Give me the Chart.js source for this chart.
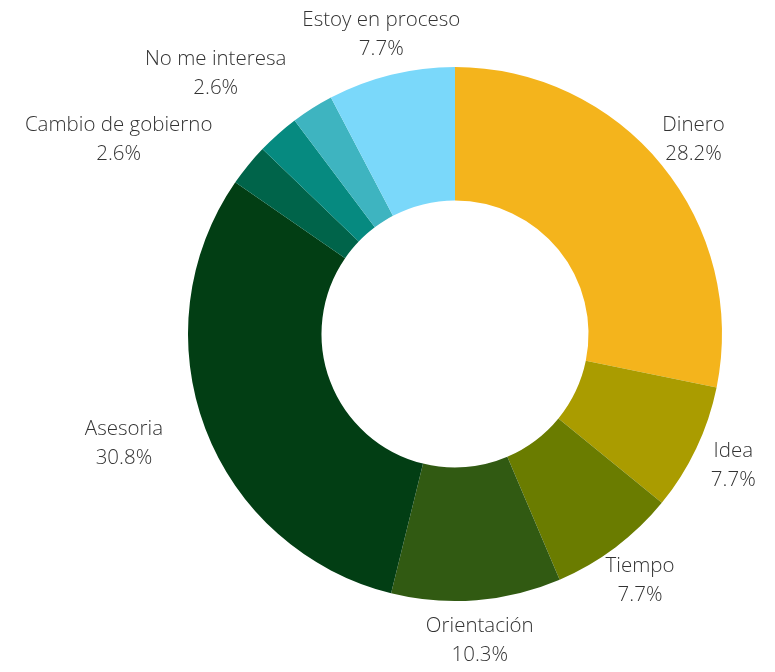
<!DOCTYPE html>
<html>
<head>
<meta charset="utf-8">
<script src="https://cdn.jsdelivr.net/npm/chart.js@4/dist/chart.umd.min.js"></script>
<style>
  html, body { margin: 0; padding: 0; background: #ffffff; }
  #wrap { width: 775px; height: 672px; position: relative; }
</style>
</head>
<body>
<div id="wrap"><canvas id="c" width="775" height="672"></canvas></div>
<script>
// Categories (one small slice has no visible label in the reference)
const categories = ['Dinero', 'Idea', 'Tiempo', 'Orientación', 'Asesoria', 'Cambio de gobierno', '', 'No me interesa', 'Estoy en proceso'];
// Response counts (percentages shown are count / total)
const counts = [11, 3, 3, 4, 12, 1, 1, 1, 3];
const sliceColors = ['#F4B41C', '#AA9C00', '#6A7C00', '#315A12', '#023E14', '#00644A', '#068A80', '#3EB4C0', '#7AD8FA'];

const labelsDraw = {
  id: 'labelsDraw',
  afterDatasetsDraw(chart) {
    const ctx = chart.ctx;
    const meta = chart.getDatasetMeta(0);
    const data = chart.data.datasets[0].data;
    const total = data.reduce((a, b) => a + b, 0);
    ctx.save();
    ctx.font = '300 20.5px "Open Sans"';
    ctx.fillStyle = '#333333';
    ctx.textBaseline = 'middle';
    ctx.textAlign = 'center';
    const lineH = 29;
    meta.data.forEach((arc, i) => {
      const name = chart.data.labels[i];
      if (!name) return;
      const p = arc.getProps(['x', 'y', 'startAngle', 'endAngle', 'outerRadius'], true);
      const mid = (p.startAngle + p.endAngle) / 2;
      const r = p.outerRadius + 41;
      const ax = p.x + Math.cos(mid) * r;
      const ay = p.y + Math.sin(mid) * r;
      const pct = (data[i] / total * 100).toFixed(1) + '%';
      const w = Math.max(ctx.measureText(name).width, ctx.measureText(pct).width);
      let cx = ax;
      if (Math.cos(mid) < -0.5) cx = ax - 4 - w / 2;
      ctx.fillText(name, cx, ay - lineH / 2);
      ctx.fillText(pct, cx, ay + lineH / 2);
    });
    ctx.restore();
  }
};

new Chart(document.getElementById('c'), {
  type: 'doughnut',
  data: {
    labels: categories,
    datasets: [{
      data: counts,
      backgroundColor: sliceColors,
      borderWidth: 0
    }]
  },
  options: {
    responsive: false,
    animation: false,
    cutout: '50%',
    layout: { padding: { left: 188, right: 53, top: 67, bottom: 71 } },
    plugins: {
      legend: { display: false },
      tooltip: { enabled: false }
    }
  },
  plugins: [labelsDraw]
});
</script>
</body>
</html>
